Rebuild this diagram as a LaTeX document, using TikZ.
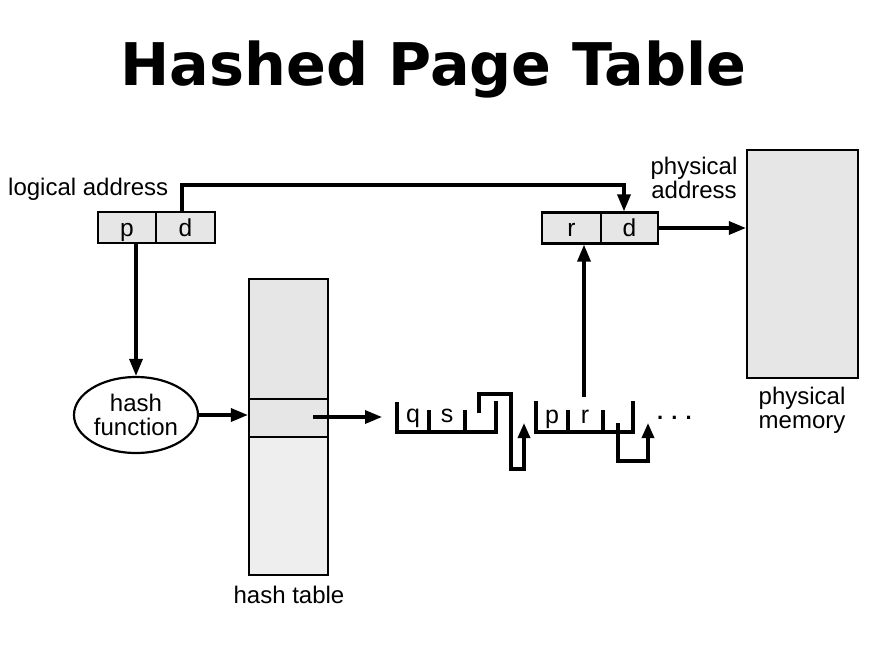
\documentclass[tikz,border=0pt]{standalone}
\usepackage{fontspec}
\setmainfont{Liberation Sans}
\newfontfamily\titlefont{DejaVu Sans}
\usetikzlibrary{arrows.meta,shapes.geometric}
\definecolor{boxgray}{HTML}{E6E6E6}
\definecolor{tablelow}{HTML}{EEEEEE}
\begin{document}
\begin{tikzpicture}[x=1pt,y=-1pt,
  lbl/.style={inner sep=0pt,font=\fontsize{24}{24}\selectfont},
  lbltwo/.style={inner sep=0pt,align=center,font=\fontsize{24}{23.5}\selectfont},
  clbl/.style={inner sep=0pt,font=\fontsize{25}{25}\selectfont,anchor=base},
  cell/.style={draw,line width=2.2pt,fill=boxgray,inner sep=0pt,minimum height=31pt,text height=17pt,text depth=0pt,font=\fontsize{24.5}{24}\selectfont},
  blk/.style={draw,line width=2.2pt,inner sep=0pt},
  conn/.style={line width=3.3pt},
  arr/.style={conn,-{Triangle[length=17pt,width=13pt]}},
  sarr/.style={conn,-{Triangle[length=15pt,width=12pt]}},
  chain/.style={line width=3.2pt},
]
\useasboundingbox (0,0) rectangle (878,659);
\fill[white] (0,0) rectangle (878,659);

% title
\node[inner sep=0pt,anchor=base,font=\titlefont\bfseries\fontsize{58.8}{60}\selectfont] (title) at (433.5,85) {Hashed Page Table};

% logical address
\node[cell,minimum width=58pt] (p) at (127,227.5) {p};
\node[cell,minimum width=59pt] (d) at (185.5,227.5) {d};
\node[lbl,anchor=base west] (la) at (8,195) {logical address};

% physical address
\node[cell,minimum width=59pt] (r) at (571.5,228) {r};
\node[cell,minimum width=57pt] (d2) at (629.5,228) {d};
\node[lbltwo,anchor=north] (pa) at (694,157) {physical\\address};

% physical memory
\node[blk,fill=boxgray,minimum width=111pt,minimum height=228pt] (mem) at (802.5,264) {};
\node[lbltwo,anchor=north] (pm) at (802,387) {physical\\memory};

% hash function
\node[blk,ellipse,fill=white,minimum width=124pt,minimum height=76pt,align=center,font=\fontsize{24}{24}\selectfont] (hash) at (136,415) {hash\\function};

% hash table
\node[blk,fill=tablelow,minimum width=79pt,minimum height=296pt] (ht) at (288.5,427) {};
\node[blk,fill=boxgray,minimum width=79pt,minimum height=120pt] (httop) at (288.5,339) {};
\node[blk,fill=boxgray,minimum width=79pt,minimum height=38pt] (hrow) at (288.5,418) {};
\node[lbl,anchor=base] (htl) at (289,603) {hash table};

% connectors
\coordinate (bus) at (0,185);
\draw[arr] ([xshift=-3.5pt]d.north) -- ([xshift=-3.5pt]d.north |- bus) -| ([xshift=-5.5pt]d2.north);
\draw[arr] (d2.east) -- (d2.east -| mem.west);
\draw[arr] (p.south -| hash.north) -- (hash.north);
\draw[arr] (hash.east) -- (hash.east -| hrow.west);
\coordinate (rowptr) at (313,417);
\coordinate (e1) at (382,417);
\draw[arr] (rowptr) -- (e1);

% chain entry 1
\draw[chain] (397,402) -- (397,432) -- (496,432) -- (496,401);
\draw[chain] (429,410) -- (429,432) (465,410) -- (465,432);
\node[clbl] (q) at (413,422.5) {q};
\node[clbl] (s) at (447,422.5) {s};
\draw[sarr] (479,413) -- (479,394) -- (511,394) -- (511,469) -- (524,469) -- (524,423);

% chain entry 2
\draw[chain] (536,401) -- (536,432) -- (633,432) -- (633,401);
\draw[chain] (568,410) -- (568,432) (603,410) -- (603,432);
\node[clbl] (p2) at (552,423) {p};
\node[clbl] (r2) at (585,423) {r};
\draw[sarr] (618,423) -- (618,461) -- (648,461) -- (648,423);
\coordinate (rptr) at (584,397);
\draw[arr] (rptr) -- (rptr |- r.south);
\node[anchor=base west,inner sep=0pt,font=\bfseries\fontsize{22}{24}\selectfont] (dots) at (657,419) {. . .};
\end{tikzpicture}
\end{document}
